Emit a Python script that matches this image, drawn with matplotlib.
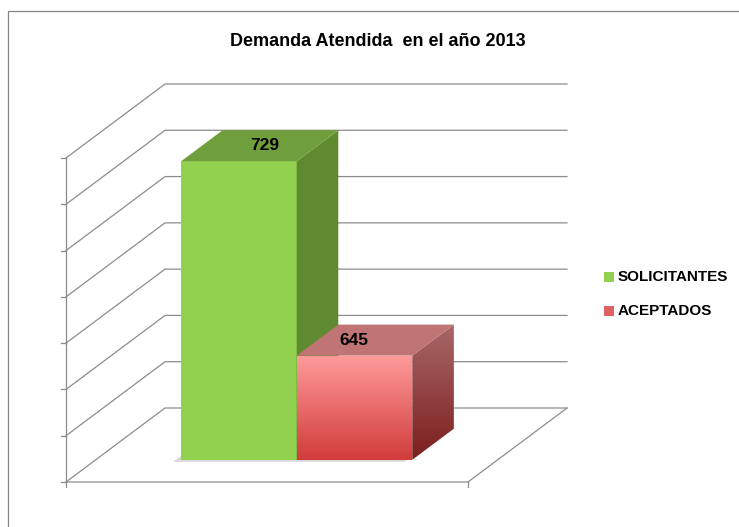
import numpy as np
import matplotlib
matplotlib.use("Agg")
import matplotlib.pyplot as plt
from matplotlib.patches import Polygon, Rectangle
from matplotlib.colors import LinearSegmentedColormap

# chart data
title = "Demanda Atendida  en el año 2013"
series = ["SOLICITANTES", "ACEPTADOS"]
values = [729, 645]
y_min, y_max, y_step = 600, 740, 20

FONT = ["Liberation Sans Narrow", "Liberation Sans", "DejaVu Sans"]

W, H = 739, 527
fig = plt.figure(figsize=(W / 100, H / 100), dpi=100)
ax = fig.add_axes([0, 0, 1, 1])

# front plane of the 3d box, in pixels (x left->right, y top->bottom)
fx0, fx1 = 66, 468
fyb, fyt = 482, 158
px_x = fx1 - fx0
px_v = (fyb - fyt) / (y_max - y_min)


def set_limits():
    ax.set_xlim(-fx0 / px_x, (W - fx0) / px_x)
    ax.set_ylim(y_min - (H - fyb) / px_v, y_min + fyb / px_v)


set_limits()
ax.axis("off")

# depth offset of the back wall in data units
DX = 99 / px_x
DV = 74 / px_v


def P(x, v, d):
    return (x + d * DX, v + d * DV)


grid_col = "#8c8c8c"
lw = 0.9

# back wall and left wall gridlines
for v in np.arange(y_min, y_max + 1, y_step):
    a, b, c = P(0, v, 0), P(0, v, 1), P(1, v, 1)
    ax.plot([a[0], b[0], c[0]], [a[1], b[1], c[1]], color=grid_col, lw=lw,
            solid_joinstyle="miter", zorder=1)

# floor
a, b, c = P(0, y_min, 0), P(1, y_min, 0), P(1, y_min, 1)
ax.plot([a[0], b[0], c[0]], [a[1], b[1], c[1]], color=grid_col, lw=lw,
        zorder=1)

# value axis with ticks
tick_v = 5 / px_v
tick_x = 5 / px_x
ax.plot([0, 0], [y_min - tick_v, y_max], color=grid_col, lw=lw, zorder=1)
for v in np.arange(y_min, y_max + 1, y_step):
    ax.plot([-tick_x, 0], [v, v], color=grid_col, lw=lw, zorder=1)
ax.plot([1, 1], [y_min - tick_v, y_min], color=grid_col, lw=lw, zorder=1)

# bars
d0, d1 = 0.30, 0.72
bw = 0.2875
lefts = [0.5 - bw, 0.5]
front_cols = [("#92d050", "#92d050"), ("#ff9b9b", "#d03c3a")]
side_cols = [("#5f8a30", "#5f8a30"), ("#a86868", "#7c1e1e")]
top_cols = ["#6f9f3c", "#c07474"]
label_dx = [5, -21]

# soft shadow under the bars
sh = [P(lefts[0], y_min, d0), P(lefts[1] + bw, y_min, d0),
      P(lefts[1] + bw, y_min, d1), P(lefts[0], y_min, d1)]
sh = [(x - 8 / px_x, y - 2 / px_v) for x, y in sh]
ax.add_patch(Polygon(sh, closed=True, facecolor="#c8c8c8", edgecolor="none",
                     alpha=0.7, zorder=2))

zlevel = [3]


def shaded(poly, cols):
    z = zlevel[0]
    zlevel[0] += 1
    if cols[0] == cols[1]:
        ax.add_patch(Polygon(poly, closed=True, facecolor=cols[0],
                             edgecolor="none", zorder=z))
        return
    patch = Polygon(poly, closed=True, facecolor="none", edgecolor="none",
                    zorder=z)
    ax.add_patch(patch)
    xs = [p[0] for p in poly]
    ys = [p[1] for p in poly]
    cmap = LinearSegmentedColormap.from_list("g", [cols[1], cols[0]])
    grad = np.linspace(0, 1, 256).reshape(-1, 1)
    im = ax.imshow(grad, cmap=cmap, aspect="auto", origin="lower",
                   extent=[min(xs), max(xs), min(ys), max(ys)],
                   interpolation="bicubic", zorder=z)
    im.set_clip_path(patch)


for i, (xl, v) in enumerate(zip(lefts, values)):
    xr = xl + bw
    front = [P(xl, y_min, d0), P(xr, y_min, d0), P(xr, v, d0), P(xl, v, d0)]
    side = [P(xr, y_min, d0), P(xr, y_min, d1), P(xr, v, d1), P(xr, v, d0)]
    top = [P(xl, v, d0), P(xr, v, d0), P(xr, v, d1), P(xl, v, d1)]
    shaded(front, front_cols[i])
    shaded(side, side_cols[i])
    shaded(top, (top_cols[i], top_cols[i]))
    cx, cy = P(xl + bw / 2, v, (d0 + d1) / 2)
    ax.annotate(str(v), (cx, cy), xytext=(label_dx[i], 0),
                textcoords="offset pixels", ha="center", va="center",
                fontsize=12.5, fontweight="bold", family=FONT, color="black",
                zorder=20)

set_limits()

# chart area border (only top and left edges fall inside the picture)
fig.patches.append(Rectangle((8 / W, -0.1), 1.2, 1.1 - 11 / H,
                             transform=fig.transFigure, fill=False,
                             edgecolor="#868686", lw=0.9))

fig.text(378 / W, 1 - 41 / H, title, ha="center", va="center", fontsize=13,
         fontweight="bold", family=FONT)

# legend
leg_cols = ["#92d050", "#e06262"]
for i, name in enumerate(series):
    yc = 277 + i * 34
    fig.patches.append(Rectangle((604 / W, 1 - (yc + 5) / H), 10 / W, 10 / H,
                                 transform=fig.transFigure,
                                 facecolor=leg_cols[i], edgecolor="none"))
    fig.text(618 / W, 1 - yc / H, name, ha="left", va="center", fontsize=11,
             fontweight="bold", family=FONT)

fig.savefig("out.png", dpi=100)
